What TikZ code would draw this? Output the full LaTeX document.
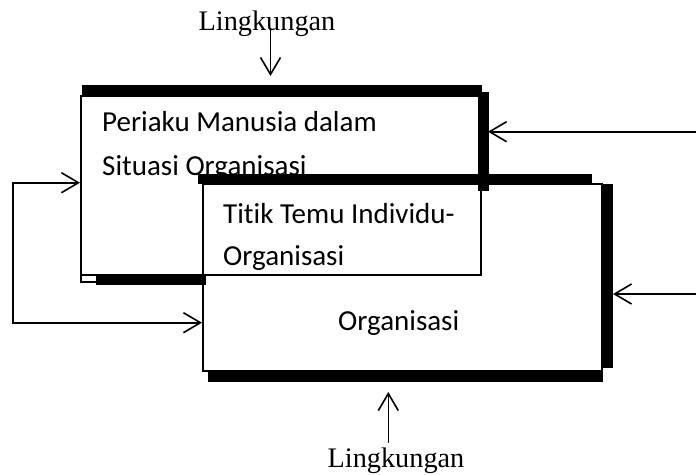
\documentclass[tikz,border=0pt]{standalone}
\usepackage{fontspec}
\setmainfont{Liberation Serif}
\newfontfamily\calib[Ligatures=NoCommon]{Carlito}
\usetikzlibrary{arrows.meta}
\begin{document}
\begin{tikzpicture}[x=1pt,y=-1pt,
  thinrule/.style={line width=1.2pt},
  arr/.style={line width=1.6pt,line join=miter,-{Straight Barb[length=17pt,width=20pt,line width=1.6pt]}},
  darr/.style={line width=1.6pt,line join=miter,{Straight Barb[length=17pt,width=20pt,line width=1.6pt]}-{Straight Barb[length=17pt,width=20pt,line width=1.6pt]}},
  sanslab/.style={font=\calib\fontsize{29}{34}\selectfont, anchor=base west, inner sep=0pt},
  serlab/.style={font=\fontsize{28.3}{34}\selectfont, anchor=base, inner sep=0pt}]
\useasboundingbox (0,0) rectangle (696,474);

% Box 1: Periaku Manusia dalam Situasi Organisasi
\draw[thinrule, fill=white] (81,96) rectangle (481,282);
\node[sanslab] (t1a) at (102,131.5) {Periaku Manusia dalam};
\node[sanslab] (t1b) at (102,175) {Situasi Organisasi};
\fill (82,85) rectangle (482,96);
\draw[thinrule] (81,275) -- (96,275);

% Box 3: Organisasi
\draw[thinrule, fill=white] (203,184) rectangle (602,371);
\fill (96,274) rectangle (206,285);
\draw[thinrule] (203,184) -- (203,371);
\fill (198,174) rectangle (592,184);
\fill (601.5,184) rectangle (612.5,368);
\fill (208,371) rectangle (603,382);
\node[sanslab] (t3) at (338,330) {Organisasi};

% Box 2: Titik Temu Individu-Organisasi
\draw[thinrule] (203,275) -- (481,275) -- (481,184);
\fill (478,92) rectangle (489,191);
\node[sanslab] (t2a) at (223,223) {Titik Temu Individu-};
\node[sanslab] (t2b) at (223,265) {Organisasi};

% Environment labels
\node[serlab] (lk1) at (267,30.5) {Lingkungan};
\node[serlab] (lk2) at (396,467) {Lingkungan};

% Connector end points
\coordinate (a1s) at (270.5,28);
\coordinate (a1e) at (270.5,76);
\coordinate (a2s) at (388.3,443);
\coordinate (a2e) at (388.3,392);
\coordinate (fbTop) at (80,182.7);
\coordinate (fbBot) at (202,322.7);
\coordinate (r1s) at (697,131.7);
\coordinate (r1e) at (488,131.7);
\coordinate (r2s) at (697,294);
\coordinate (r2e) at (613,294);

\draw[arr] (a1s) -- (a1e);
\draw[arr] (a2s) -- (a2e);
\draw[darr] (fbTop) -- (12.7,182.7) -- (12.7,322.7) -- (fbBot);
\draw[arr] (r1s) -- (r1e);
\draw[arr] (r2s) -- (r2e);
\end{tikzpicture}
\end{document}
